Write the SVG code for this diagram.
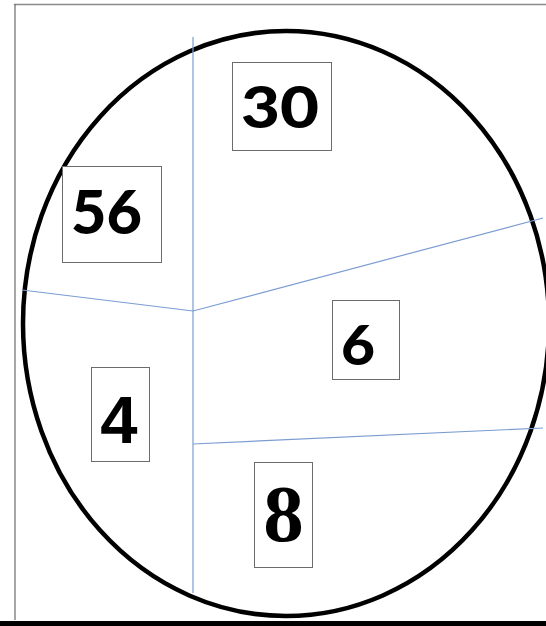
<svg xmlns="http://www.w3.org/2000/svg" width="546" height="626" viewBox="0 0 546 626">
<style>
.box{fill:#fff;stroke:#6b6b6b;stroke-width:1}
.div{fill:none;stroke:#7b9cd2;stroke-width:1.2}
.cal{font-family:Lato,"Noto Sans","Liberation Sans",sans-serif;font-weight:900;fill:#000;text-anchor:middle}
</style>
<rect width="546" height="626" fill="#fff"/>
<g id="frame">
<line x1="14" y1="4.5" x2="546" y2="4.5" stroke="#8a8a8a" stroke-width="1.5"/>
<line x1="15" y1="4" x2="15" y2="620" stroke="#6b6b6b" stroke-width="1.2"/>
<rect x="0" y="621" width="546" height="5" fill="#000"/>
</g>
<g id="circle">
<ellipse cx="286" cy="323.5" rx="263" ry="292.5" fill="none" stroke="#000" stroke-width="4.5"/>
</g>
<g id="connectors">
<line class="div" x1="193" y1="37" x2="193" y2="593"/>
<polyline class="div" points="22,290 193,311 543,218"/>
<line class="div" x1="193" y1="444" x2="543" y2="428"/>
</g>
<g id="n30">
<rect class="box" x="232.5" y="62.5" width="99" height="88"/>
<text class="cal" x="280" y="128" font-size="57" textLength="78" lengthAdjust="spacingAndGlyphs">30</text>
</g>
<g id="n56">
<rect class="box" x="62.5" y="166.5" width="99" height="96"/>
<text class="cal" x="106.5" y="234" font-size="61" textLength="71" lengthAdjust="spacingAndGlyphs">56</text>
</g>
<g id="n6">
<rect class="box" x="332.5" y="300.5" width="67" height="79"/>
<text class="cal" x="358" y="365" font-size="56" textLength="34" lengthAdjust="spacingAndGlyphs">6</text>
</g>
<g id="n4">
<rect class="box" x="91.5" y="367.5" width="58" height="94"/>
<text x="119" y="443" font-family="Liberation Sans, Arial, sans-serif" font-weight="700" font-size="67" text-anchor="middle">4</text>
</g>
<g id="n8">
<rect class="box" x="254.5" y="462.5" width="58" height="105"/>
<text x="283.5" y="541" font-family="Liberation Serif, Times New Roman, serif" font-weight="700" font-size="81" text-anchor="middle">8</text>
</g>
</svg>
